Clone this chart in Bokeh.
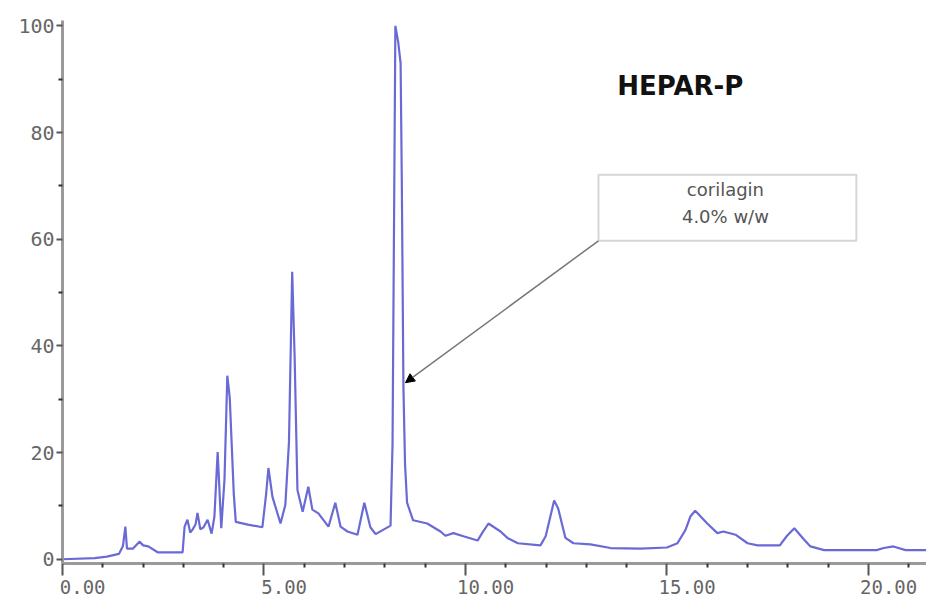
from bokeh.plotting import figure
from bokeh.models import (Range1d, LinearAxis, FixedTicker, Arrow, NormalHead, BoxAnnotation,
                          Label, CustomLabelingPolicy)
from bokeh.embed import file_html
from bokeh.resources import INLINE

# Chromatogram trace (retention time in min, relative response %)
time_min = [0, 0.8, 1.1, 1.4, 1.5, 1.56, 1.6, 1.75, 1.91, 2.0, 2.13, 2.36, 2.98, 3.03, 3.1, 3.17,
            3.23, 3.3, 3.35, 3.42, 3.5, 3.6, 3.7, 3.77, 3.85, 3.94, 4.02, 4.09, 4.15, 4.25, 4.3,
            4.6, 4.96, 5.05, 5.11, 5.21, 5.41, 5.53, 5.62, 5.7, 5.76, 5.83, 5.96, 6.1, 6.2, 6.35,
            6.6, 6.77, 6.9, 7.07, 7.32, 7.49, 7.64, 7.77, 8.14, 8.19, 8.22, 8.26, 8.33, 8.39,
            8.42, 8.46, 8.5, 8.55, 8.7, 9.05, 9.38, 9.5, 9.7, 9.95, 10.3, 10.42, 10.57, 10.87,
            11.04, 11.3, 11.86, 11.99, 12.2, 12.3, 12.48, 12.68, 13.1, 13.6, 14.34, 15.0, 15.26,
            15.46, 15.58, 15.7, 16.0, 16.25, 16.4, 16.7, 17.0, 17.25, 17.8, 17.98, 18.16, 18.4,
            18.56, 18.9, 20.2, 20.38, 20.62, 20.92, 21.8]
response = [0, 0.2, 0.5, 1.0, 2.5, 6.1, 2.0, 2.0, 3.3, 2.6, 2.4, 1.3, 1.3, 6.1, 7.4, 5.0,
            5.6, 6.5, 8.7, 5.6, 6.0, 7.4, 4.8, 8.0, 20.1, 5.8, 15.0, 34.4, 30.3, 12.3, 7.0,
            6.5, 6.0, 12.0, 17.1, 11.7, 6.7, 10.2, 22.0, 53.9, 38.0, 13.0, 8.9, 13.6, 9.3, 8.6,
            6.1, 10.6, 6.1, 5.2, 4.6, 10.6, 6.0, 4.7, 6.3, 21.6, 55.4, 100.0, 97.0, 93.0,
            70.8, 32.3, 17.8, 10.6, 7.3, 6.7, 5.2, 4.4, 4.9, 4.3, 3.5, 5.0, 6.7, 5.2,
            4.0, 3.0, 2.6, 4.3, 11.0, 9.5, 4.0, 3.0, 2.8, 2.1, 2.0, 2.2, 3.0,
            5.5, 8.0, 9.1, 6.7, 4.9, 5.2, 4.6, 3.0, 2.6, 2.6, 4.4, 5.8, 3.7,
            2.4, 1.7, 1.7, 2.1, 2.4, 1.7, 1.7]

x_major_ticks = [0, 5, 10, 15, 20]
x_minor_ticks = [1, 2, 3, 4, 6, 7, 8, 9, 11, 12, 13, 14, 16, 17, 18, 19, 21]
x_tick_labels = {0: "0.00", 5: "5.00", 10: "10.00", 15: "15.00", 20: "20.00"}
y_major_ticks = [0, 20, 40, 60, 80, 100]
y_minor_ticks = [10, 30, 50, 70, 90]

title_text = "HEPAR-P"
note_lines = ["corilagin", "4.0% w/w"]

X_END = 21.44
LABEL_SHIFT = 0.5

p = figure(width=926, height=596, output_backend="svg", toolbar_location=None,
           x_range=Range1d(0, X_END), y_range=Range1d(-0.8, 101),
           min_border_left=62, min_border_top=20, min_border_right=0, min_border_bottom=31)
p.xgrid.visible = False
p.ygrid.visible = False
p.outline_line_color = None
p.background_fill_color = "white"

p.line(time_min, response, line_color="#6a6ad6", line_width=2.2)

AXIS_GRAY = "#9a9a9a"
TICK_COL = "#555555"

# main x axis: line + ticks only (its own labels are suppressed)
xa = p.xaxis[0]
xa.ticker = FixedTicker(ticks=x_major_ticks, minor_ticks=x_minor_ticks)
xa.axis_line_color = AXIS_GRAY
xa.axis_line_width = 3
xa.major_tick_in = 0
xa.major_tick_out = 12
xa.major_tick_line_color = TICK_COL
xa.major_tick_line_width = 2
xa.minor_tick_in = 0
xa.minor_tick_out = 4
xa.minor_tick_line_color = "#333333"
xa.minor_tick_line_width = 2
xa.major_label_text_font_size = "1px"
xa.major_label_standoff = 0
xa.major_label_policy = CustomLabelingPolicy(
    code="for (const i of indices) indices.unset(i); return indices")

# label axis, shifted right as in the original
p.extra_x_ranges = {"lab": Range1d(-LABEL_SHIFT, X_END - LABEL_SHIFT)}
la = LinearAxis(x_range_name="lab", ticker=FixedTicker(ticks=x_major_ticks, minor_ticks=[]))
la.major_label_overrides = x_tick_labels
la.axis_line_color = None
la.major_tick_line_color = None
la.minor_tick_line_color = None
la.major_tick_in = 0
la.major_tick_out = 0
la.minor_tick_out = 0
la.major_label_standoff = 0
la.major_label_text_font = "DejaVu Sans Mono"
la.major_label_text_font_size = "19px"
la.major_label_text_color = "#666666"
p.add_layout(la, "below")

ya = p.yaxis[0]
ya.ticker = FixedTicker(ticks=y_major_ticks, minor_ticks=y_minor_ticks)
ya.axis_line_color = AXIS_GRAY
ya.axis_line_width = 3
ya.major_tick_in = 0
ya.major_tick_out = 6
ya.major_tick_line_color = TICK_COL
ya.major_tick_line_width = 2
ya.minor_tick_in = 0
ya.minor_tick_out = 4
ya.minor_tick_line_color = "#333333"
ya.minor_tick_line_width = 2
ya.major_label_standoff = 2
ya.major_label_text_font = "DejaVu Sans Mono"
ya.major_label_text_font_size = "20px"
ya.major_label_text_color = "#666666"

# title text inside the plot
p.add_layout(Label(x=15.33, y=88.8, text=title_text, text_font="DejaVu Sans",
                   text_font_style="bold", text_font_size="26px", text_color="#111111",
                   text_align="center", text_baseline="middle"))

# annotation box
p.add_layout(BoxAnnotation(left=13.30, right=19.70, bottom=59.7, top=72.1,
                           fill_color="white", fill_alpha=1.0,
                           line_color="#777777", line_width=2))
p.add_layout(Label(x=16.45, y=69.3, text=note_lines[0], text_font="DejaVu Sans",
                   text_font_size="18px", text_color="#555555",
                   text_align="center", text_baseline="middle"))
p.add_layout(Label(x=16.45, y=64.3, text=note_lines[1], text_font="DejaVu Sans",
                   text_font_size="18px", text_color="#555555",
                   text_align="center", text_baseline="middle"))

p.add_layout(Arrow(x_start=13.30, y_start=59.7, x_end=8.51, y_end=33.1,
                   line_color="#777777", line_width=1.5,
                   end=NormalHead(size=9, fill_color="black", line_color="black")))

open("out.html", "w").write(file_html(p, INLINE))
